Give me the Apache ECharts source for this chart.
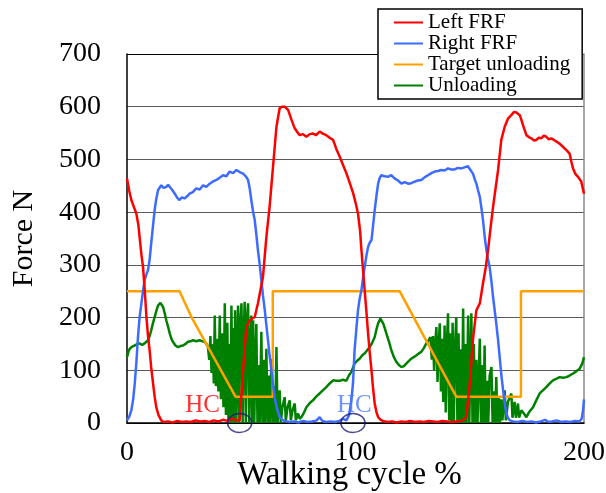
<!DOCTYPE html>
<html>
<head>
<meta charset="utf-8">
<script src="https://cdn.jsdelivr.net/npm/echarts/dist/echarts.min.js"></script>
<style>
  html, body { margin: 0; padding: 0; background: #fff; }
  #chart { width: 606px; height: 493px; }
</style>
</head>
<body>
<div id="chart"></div>
<script>
// data: [walking cycle %, force N]
const leftFRF = [[0,464],[1,440],[1.9,423],[3,410],[4.1,397],[5,375],[5.5,353],[6.3,320],[7,296],[7.8,250],[8.5,201],[9.2,165],[9.9,138],[10.6,105],[11.4,75],[12.1,50],[12.8,30],[13.8,15],[15,5],[16,2],[18,3],[20,1],[22,4],[24,2],[26,3],[28,2],[30,5],[32,3],[34,4],[36,2],[38,5],[40,3],[42,6],[44,4],[46,8],[47.8,5],[49.3,5],[50.8,100],[52.2,182],[53.7,195],[55.9,201],[57.3,227],[59.5,277],[61,353],[62.4,410],[63.9,486],[65.4,562],[66.8,597],[67.8,600],[69,600],[70.5,594],[72,575],[73.4,559],[74.5,552],[75.6,546],[77,548],[78.5,543],[80,548],[81.4,549],[82.8,546],[84.3,553],[85.7,549],[87.2,546],[88.7,541],[90.2,537],[91.6,520],[93.1,505],[94.5,490],[96,474],[97.5,455],[98.9,437],[100.2,415],[101.1,397],[102,365],[102.6,328],[103.3,290],[104,252],[104.8,210],[105.5,170],[106.2,135],[107,100],[107.7,65],[108.4,37],[109.2,20],[109.9,11],[111,6],[112,4],[114,2],[116,3],[118,1],[120,3],[122,2],[124,4],[126,2],[128,3],[130,2],[132,4],[134,3],[136,2],[138,4],[140,3],[142,2],[144,3],[146,4],[147,5],[148.5,11],[150,75],[151.4,158],[152.9,214],[154.4,227],[155.8,265],[157,295],[158,328],[159.1,370],[160.2,410],[161.3,445],[162.4,480],[163.8,537],[165.3,562],[166.8,578],[168.2,584],[169.3,590],[170.4,589],[171.9,584],[172.6,575],[173.3,565],[174.8,546],[176,542],[177,540],[178,536],[179.1,537],[180.2,541],[181.3,540],[182.4,545],[183.5,543],[184.6,538],[185.7,540],[186.8,537],[187.9,534],[189.3,530],[190.8,524],[192.2,518],[193.7,511],[194.5,495],[195.2,483],[196.3,472],[197.4,467],[198.8,458],[200,435]];

const rightFRF = [[0,5],[1,12],[1.9,24],[2.7,45],[3.4,75],[4.1,115],[4.8,163],[5.5,200],[6.3,227],[7,250],[7.7,271],[8.5,282],[9.2,290],[9.9,310],[10.6,341],[11.4,375],[12.1,404],[12.8,425],[13.6,442],[15,451],[16,446],[17.2,448],[18,452],[18.7,451],[19.8,442],[20.9,435],[22,427],[23,423],[24,428],[25.2,426],[26.3,430],[27.4,435],[28.8,438],[30.3,445],[31.8,443],[33.3,451],[34.7,448],[36.2,454],[37.6,458],[39.1,461],[40.5,465],[42,470],[43.5,468],[44.9,477],[46.4,474],[47.9,480],[49.3,476],[50.8,473],[52,468],[53,461],[53.7,445],[54.4,423],[55.2,400],[55.9,385],[56.6,358],[57.3,328],[58.1,300],[58.8,271],[59.5,242],[60.3,214],[61,185],[61.7,157],[62.4,128],[63.2,100],[63.9,72],[64.6,49],[65.6,28],[66.8,11],[68,6],[69,4],[71,2],[73,3],[75,1],[77,4],[79,2],[81,3],[83,5],[84.3,11],[85.5,4],[87,2],[89,3],[91,2],[93,4],[94.5,8],[96,5],[97.2,15],[98.2,43],[98.9,75],[99.6,138],[100.4,180],[101.1,214],[101.8,235],[102.6,252],[103.3,275],[104,296],[104.8,318],[105.5,334],[106.2,342],[107,347],[107.7,375],[108.4,404],[109.2,432],[109.9,454],[110.6,465],[111.3,470],[112.7,468],[114.2,467],[115.6,470],[117.1,464],[118.6,460],[120.1,454],[121.5,457],[123,454],[124.4,455],[125.9,458],[127.3,460],[128.8,461],[130.2,466],[131.7,470],[133.2,474],[134.7,477],[136.1,478],[137.6,480],[139,479],[140.5,483],[141.9,481],[143.4,481],[144.8,484],[146.3,483],[147.7,485],[149.2,487],[150.3,480],[151.4,473],[152.2,462],[152.9,454],[153.6,442],[154.4,429],[155.1,408],[155.8,385],[156.5,355],[157.3,328],[158,310],[158.7,296],[159.5,268],[160.2,239],[160.9,214],[161.6,189],[162.4,157],[163.1,125],[163.8,92],[164.6,62],[165.3,38],[166,18],[166.8,9],[167.5,5],[169,3],[171,2],[173,4],[175,2],[177,3],[179,1],[181,3],[183,6],[184.5,2],[186,3],[188,5],[190,2],[192,3],[194,2],[196,4],[198,3],[199,8],[199.6,25],[200,45]];

const targetUnloading = [[0,250],[23,250],[28.2,201],[47.5,50],[63.8,50],[63.8,250],[119.3,250],[144.1,50],[172.4,50],[172.4,250],[200,250]];

const unloading = [[0,125],[0.6,135],[1.2,141],[2.3,145],[3.4,147],[4.5,150],[5.5,151],[6.6,148],[7.7,151],[8.5,154],[9.2,157],[9.9,165],[10.6,176],[11.4,190],[12.1,201],[12.8,212],[13.6,223],[14.6,228],[15.2,226],[15.8,220],[16.5,208],[17.2,195],[18,182],[18.7,170],[19.4,160],[20.1,154],[21.2,147],[22.3,144],[23.4,146],[24.5,147],[25.6,150],[26.7,154],[27.8,155],[28.9,157],[30.3,155],[31.8,157],[33,155],[34,154],[34.8,150],
  [35.4,144],[36,120],[36.5,165],[37,95],[37.5,150],[38,75],[38.4,204],[38.9,70],[39.5,160],[40,60],[40.6,204],[41.1,45],[41.7,170],[42.2,30],[42.8,227],[43.3,15],[43.9,190],[44.4,5],[45,150],[45.3,0],[45.7,223],[46.2,0],[46.6,180],[47,0],[47.3,214],[47.8,0],[48.2,120],[48.6,223],[49.1,0],[49.6,190],[50.1,227],[50.6,0],[51,160],[51.5,230],[52,0],[52.5,200],[53,227],[53.5,0],[54,150],[54.4,204],[54.8,0],[55.2,195],[55.7,0],[56.2,130],[56.6,188],[57.1,0],[57.6,110],[58.1,0],[58.8,173],[59.3,0],[59.8,120],[60.3,0],[61,141],[61.5,0],[62,90],[62.5,0],[63.2,122],[63.7,0],[64.3,70],[64.8,0],[65.4,144],[65.9,0],[66.4,40],[66.8,62],[67.3,0],[68,30],[69,49],[69.5,5],[70.3,30],[71.2,43],[71.7,5],[72.5,25],[73.4,37],[73.9,5],[74.9,18],[75.6,8],
  [76.5,12],[77.5,20],[78.5,30],[80,38],[81.4,43],[82.8,50],[84.3,56],[85.7,62],[87.2,68],[88.7,75],[90.2,81],[91.6,80],[93.1,80],[94.5,82],[96,80],[97.1,90],[98.2,97],[99.6,113],[100.7,118],[101.8,122],[102.9,128],[104,132],[105.1,138],[106.2,144],[107.3,152],[108.4,163],[109.2,178],[109.9,189],[110.9,198],[111.5,195],[112.1,189],[112.8,180],[113.5,170],[114.6,155],[115.7,138],[116.8,125],[117.9,116],[119,110],[120.1,106],[121.2,108],[122.3,113],[123.4,118],[124.4,122],[125.5,125],[126.6,128],[127.7,132],[128.8,135],[129.9,142],[131,151],[132,157],[132.8,163],
  [133.4,120],[133.9,165],[134.4,100],[134.9,150],[135.4,182],[135.9,78],[136.4,150],[136.9,189],[137.4,60],[137.9,160],[138.4,40],[139,185],[139.5,20],[140,150],[140.5,208],[141,5],[141.5,170],[142,0],[142.5,190],[143,0],[143.6,150],[144.1,201],[144.6,0],[145.1,170],[145.6,0],[146.1,140],[146.6,0],[147.1,217],[147.6,0],[148.1,150],[148.6,0],[149.3,204],[149.8,0],[150.3,120],[150.7,208],[151.2,0],[151.8,150],[152.3,0],[152.9,120],[153.4,0],[154,100],[154.4,160],[154.9,0],[155.5,110],[156,0],[156.5,147],[157,0],[157.6,80],[158.1,0],[158.7,90],[159.5,106],[160,0],[160.6,60],[161.1,0],[161.6,87],[162.1,0],[162.7,50],[163.2,0],[163.8,45],[164.3,5],[165.3,62],[165.8,5],[166.7,40],[168.2,56],[168.7,10],[169.6,40],[170.2,10],[171.1,37],[171.6,10],
  [172.6,24],[173.7,18],[174.8,11],[175.9,20],[176.8,25],[177.7,30],[179,42],[180.6,56],[182,62],[183.5,68],[185,75],[186.4,81],[188,84],[189.4,87],[190.8,86],[192.3,87],[193.7,90],[195.2,94],[196.6,98],[198.1,103],[199.2,112],[200,125]];

// heel contact annotations
const hcTextPos = [[33.1, 33.6], [99.5, 33.6]];
const hcCircles = [[49.3, 0], [98.9, 0]];

const serif = 'Liberation Serif';
const names = ['Left FRF', 'Right FRF', 'Target unloading', 'Unloading'];
const colors = ['#ff0000', '#3d6bff', '#ffa000', '#008000'];
const lineData = [leftFRF, rightFRF, targetUnloading, unloading];
const drawOrder = [3, 2, 1, 0];

let chart = echarts.init(document.getElementById('chart'));

let seriesList = [];
for (let k of drawOrder) {
  seriesList.push({
    name: names[k],
    type: 'line',
    data: lineData[k],
    showSymbol: false,
    symbol: 'none',
    lineStyle: {color: colors[k], width: 2.5},
    itemStyle: {color: colors[k]}
  });
}

seriesList.push({
  name: 'HC',
  type: 'scatter',
  data: [
    {value: hcTextPos[0], label: {color: '#ff0000'}},
    {value: hcTextPos[1], label: {color: '#4a78ff'}}
  ],
  symbolSize: 0,
  silent: true,
  z: 5,
  label: {show: true, position: 'inside', formatter: 'HC', fontFamily: serif, fontSize: 25}
});

seriesList.push({
  name: 'HC circle',
  type: 'scatter',
  data: hcCircles,
  symbol: 'circle',
  symbolSize: [24, 19],
  clip: false,
  silent: true,
  z: 6,
  itemStyle: {color: 'rgba(0,0,0,0)', borderColor: '#1a1a7a', borderWidth: 1.5}
});

let option = {
  animation: false,
  backgroundColor: '#fff',
  grid: {left: 127, right: 22, top: 54, bottom: 70, outerBoundsMode: 'none', containLabel: false},
  legend: {
    data: names,
    orient: 'vertical',
    left: 378,
    top: 9,
    icon: 'rect',
    itemWidth: 29,
    itemHeight: 2,
    itemGap: 0,
    padding: [3, 12, 3, 16],
    borderColor: '#000',
    borderWidth: 1.5,
    borderRadius: 0,
    backgroundColor: '#fff',
    textStyle: {fontFamily: serif, fontSize: 21, color: '#000', lineHeight: 21},
    z: 10
  },
  xAxis: {
    type: 'value',
    min: 0,
    max: 200,
    interval: 100,
    name: 'Walking cycle %',
    nameLocation: 'middle',
    nameGap: 36,
    nameMoveOverlap: false,
    nameTextStyle: {fontFamily: serif, fontSize: 33, color: '#000', padding: [0, 12, 0, 0]},
    axisLine: {lineStyle: {color: '#000', width: 1.5}},
    axisTick: {show: false},
    axisLabel: {fontFamily: serif, fontSize: 28, color: '#000', margin: 16},
    splitLine: {show: false}
  },
  yAxis: [{
    type: 'value',
    min: 0,
    max: 700,
    interval: 100,
    name: 'Force N',
    nameLocation: 'middle',
    nameGap: 88,
    nameMoveOverlap: false,
    nameTextStyle: {fontFamily: serif, fontSize: 30, color: '#000'},
    axisLine: {show: true, lineStyle: {color: '#000', width: 1.5}},
    axisTick: {show: false},
    axisLabel: {fontFamily: serif, fontSize: 28, color: '#000', margin: 26},
    splitLine: {
      show: true,
      lineStyle: {color: ['#000', '#5a5a5a', '#5a5a5a', '#5a5a5a', '#5a5a5a', '#5a5a5a', '#5a5a5a', '#000'], width: 1.2}
    }
  }, {
    type: 'value',
    position: 'right',
    min: 0,
    max: 700,
    interval: 100,
    axisLine: {show: true, lineStyle: {color: '#8a8a8a', width: 1.5}},
    axisTick: {show: false},
    axisLabel: {show: false},
    splitLine: {show: false}
  }],
  series: seriesList
};
chart.setOption(option);
</script>
</body>
</html>
